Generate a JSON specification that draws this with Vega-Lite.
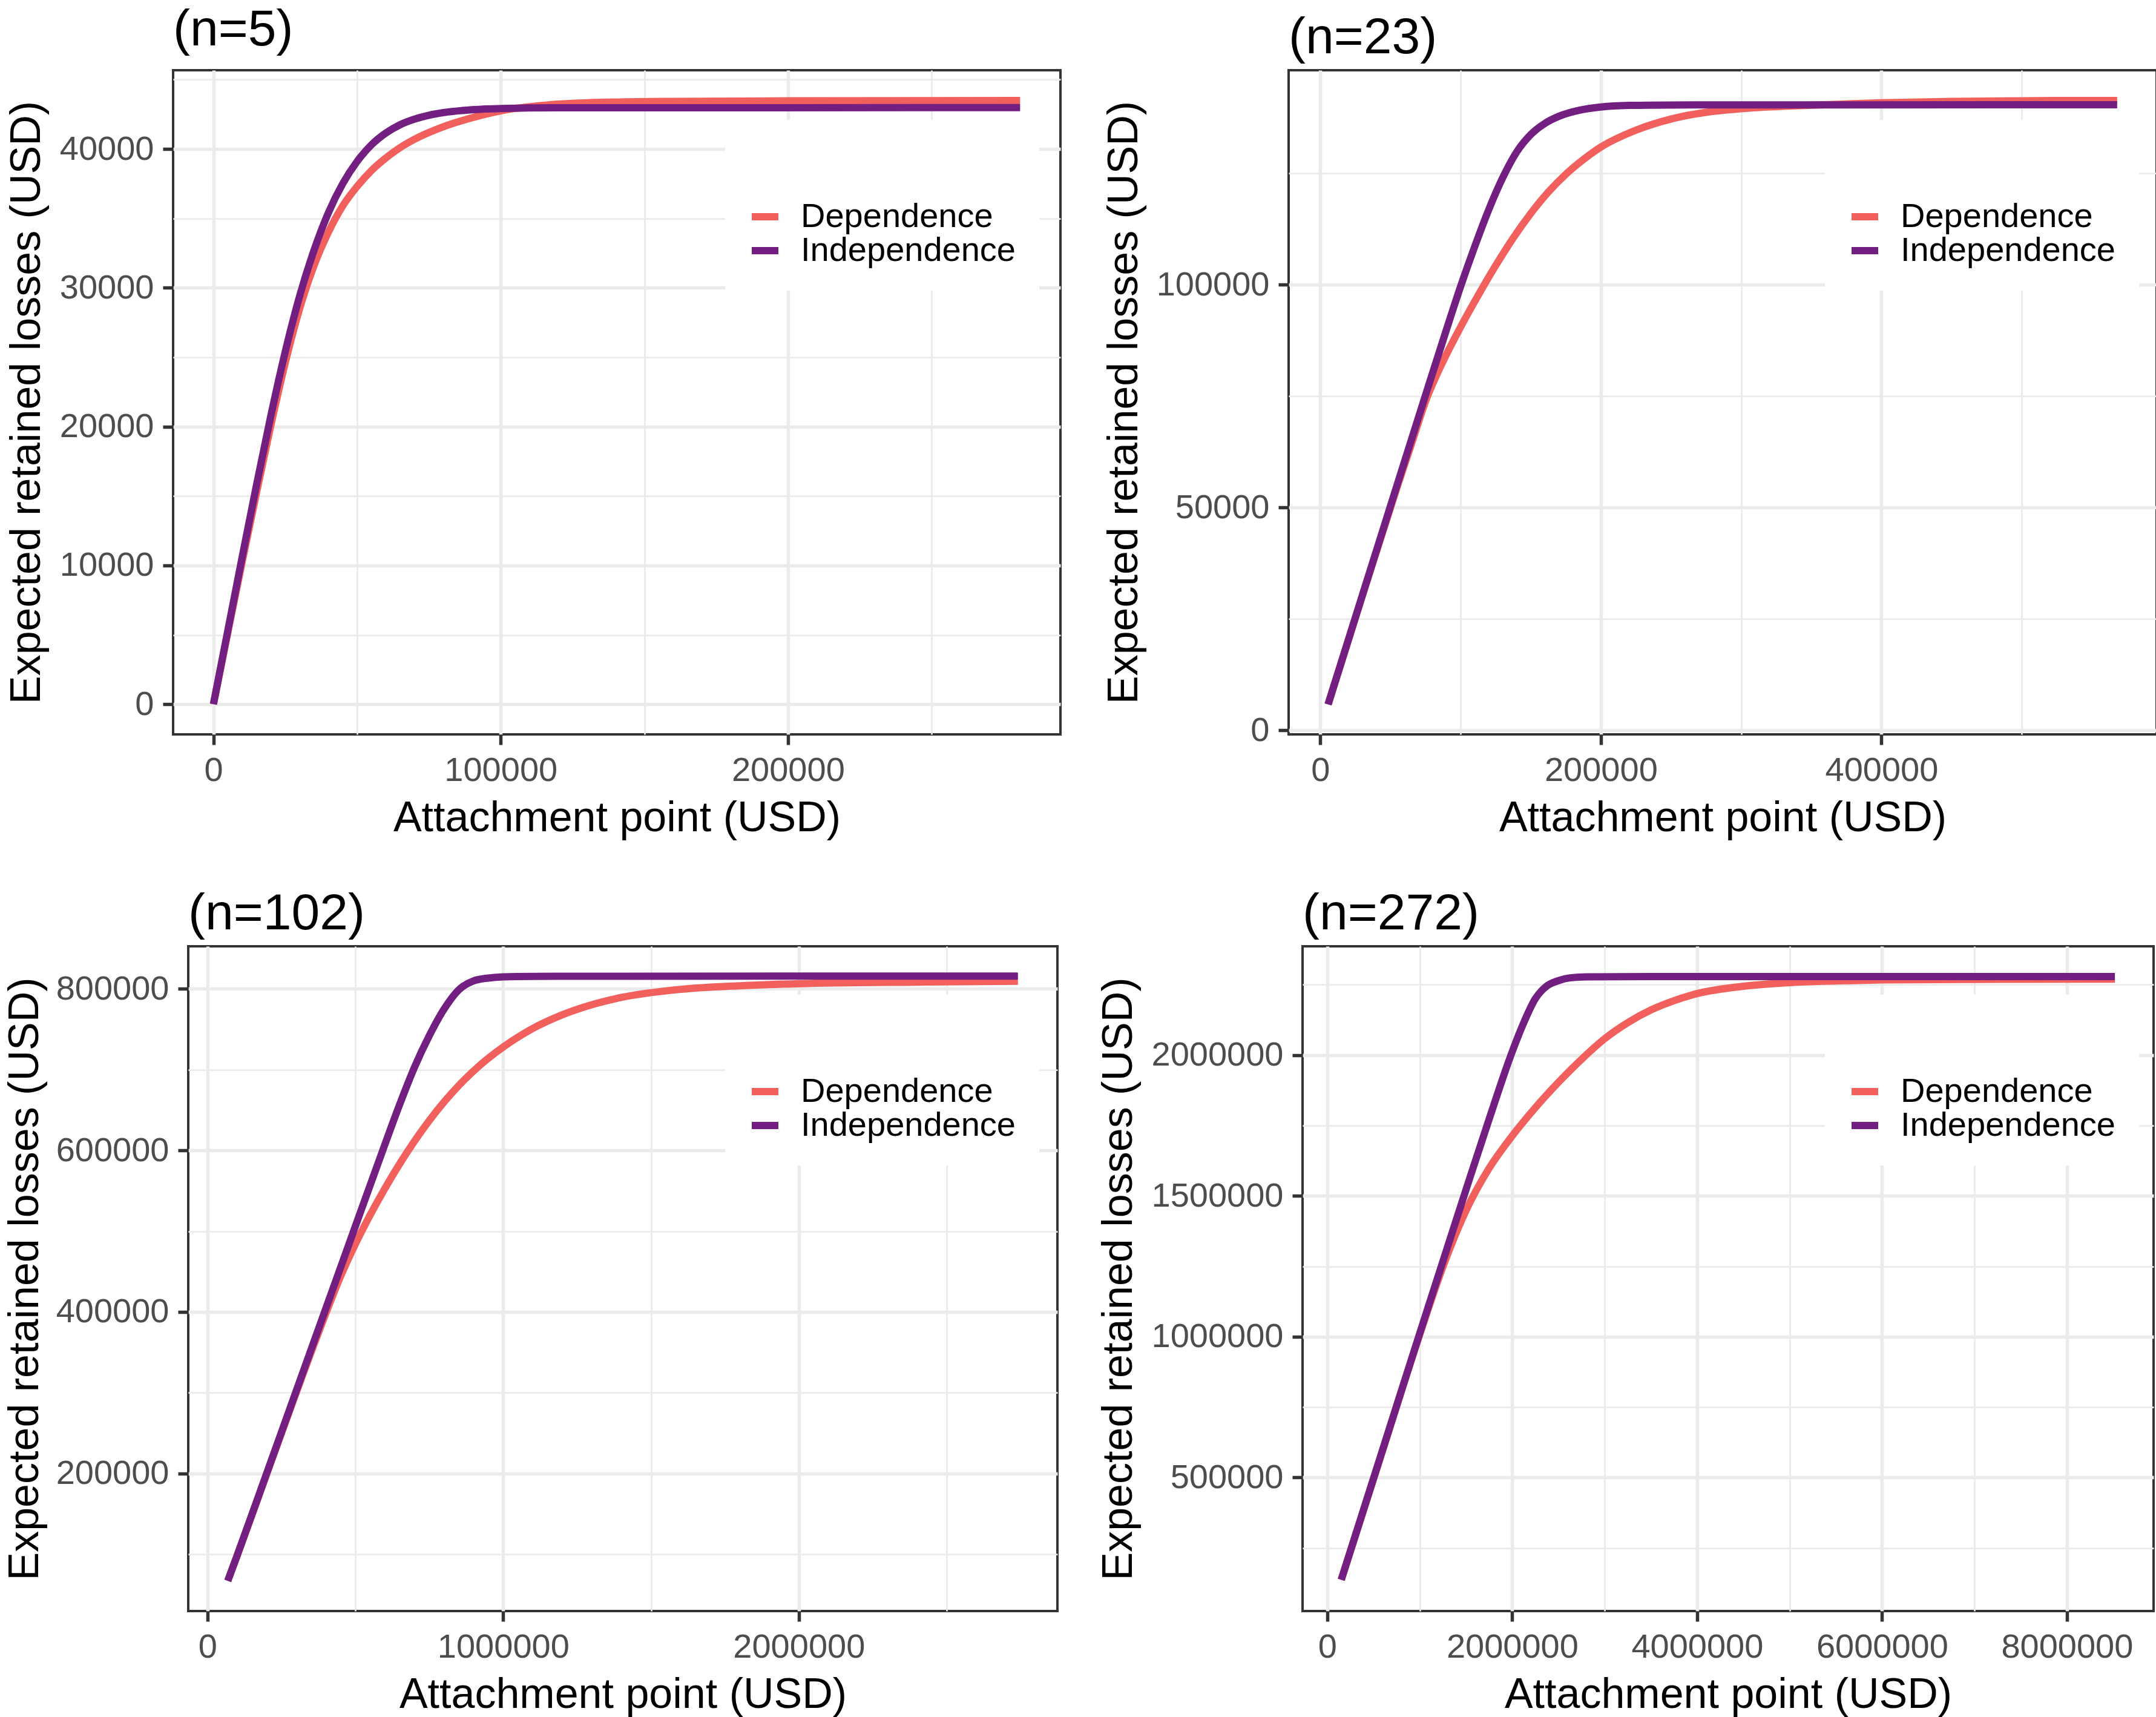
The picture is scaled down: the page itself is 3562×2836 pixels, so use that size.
{
  "$schema": "https://vega.github.io/schema/vega-lite/v6.json",
  "padding": {"left": 3, "top": 6, "right": 0, "bottom": 0},
  "background": "#FFFFFF",
  "config": {
    "font": "Liberation Sans",
    "view": {"stroke": "#333333", "strokeWidth": 4},
    "axis": {
      "domain": false,
      "labelFontSize": 56,
      "labelColor": "#4D4D4D",
      "labelFont": "Liberation Sans",
      "labelLimit": 0,
      "titleFont": "Liberation Sans",
      "titleFontSize": 70,
      "titleColor": "#000000",
      "titleFontWeight": "normal",
      "titleLimit": 0,
      "tickColor": "#333333",
      "tickWidth": 5.5,
      "tickSize": 17,
      "labelPadding": 15,
      "gridColor": "#EBEBEB",
      "labelOverlap": false,
      "labelFlush": false,
      "labelBound": false,
      "format": "d"
    },
    "axisX": {"titlePadding": 17},
    "axisY": {"titlePadding": 18},
    "title": {"fontSize": 84, "anchor": "start", "frame": "group", "fontWeight": "normal", "color": "#000000", "offset": 10, "font": "Liberation Sans"},
    "legend": {
      "orient": "none",
      "symbolType": "stroke",
      "symbolSize": 1936,
      "symbolStrokeWidth": 12,
      "labelFontSize": 56,
      "labelColor": "#000000",
      "labelFont": "Liberation Sans",
      "labelOffset": 31,
      "labelLimit": 0,
      "rowPadding": -7,
      "padding": 38,
      "fillColor": "#FFFFFF",
      "titleFontSize": 56,
      "titlePadding": 38
    },
    "line": {"strokeWidth": 12, "interpolate": "monotone"}
  },
  "datasets": {
    "p1": [
      {"s": "Dependence", "x": 0, "y": 0},
      {"s": "Dependence", "x": 5000, "y": 5150},
      {"s": "Dependence", "x": 10000, "y": 10250},
      {"s": "Dependence", "x": 15000, "y": 15250},
      {"s": "Dependence", "x": 20000, "y": 20100},
      {"s": "Dependence", "x": 25000, "y": 24600},
      {"s": "Dependence", "x": 30000, "y": 28500},
      {"s": "Dependence", "x": 35000, "y": 31600},
      {"s": "Dependence", "x": 40000, "y": 34000},
      {"s": "Dependence", "x": 45000, "y": 35900},
      {"s": "Dependence", "x": 50000, "y": 37300},
      {"s": "Dependence", "x": 55000, "y": 38450},
      {"s": "Dependence", "x": 60000, "y": 39350},
      {"s": "Dependence", "x": 65000, "y": 40100},
      {"s": "Dependence", "x": 70000, "y": 40700},
      {"s": "Dependence", "x": 80000, "y": 41600},
      {"s": "Dependence", "x": 90000, "y": 42250},
      {"s": "Dependence", "x": 100000, "y": 42750},
      {"s": "Dependence", "x": 115000, "y": 43150},
      {"s": "Dependence", "x": 130000, "y": 43330},
      {"s": "Dependence", "x": 160000, "y": 43430},
      {"s": "Dependence", "x": 200000, "y": 43470},
      {"s": "Dependence", "x": 280800, "y": 43490},
      {"s": "Independence", "x": 0, "y": 0},
      {"s": "Independence", "x": 5000, "y": 5300},
      {"s": "Independence", "x": 10000, "y": 10600},
      {"s": "Independence", "x": 15000, "y": 15800},
      {"s": "Independence", "x": 20000, "y": 20800},
      {"s": "Independence", "x": 25000, "y": 25400},
      {"s": "Independence", "x": 30000, "y": 29400},
      {"s": "Independence", "x": 35000, "y": 32700},
      {"s": "Independence", "x": 40000, "y": 35400},
      {"s": "Independence", "x": 45000, "y": 37500},
      {"s": "Independence", "x": 50000, "y": 39100},
      {"s": "Independence", "x": 55000, "y": 40300},
      {"s": "Independence", "x": 60000, "y": 41150},
      {"s": "Independence", "x": 65000, "y": 41750},
      {"s": "Independence", "x": 70000, "y": 42150},
      {"s": "Independence", "x": 75000, "y": 42430},
      {"s": "Independence", "x": 80000, "y": 42620},
      {"s": "Independence", "x": 90000, "y": 42830},
      {"s": "Independence", "x": 100000, "y": 42920},
      {"s": "Independence", "x": 120000, "y": 42970},
      {"s": "Independence", "x": 280800, "y": 42980}
    ],
    "p2": [
      {"s": "Dependence", "x": 5570, "y": 5800},
      {"s": "Dependence", "x": 30000, "y": 30200},
      {"s": "Dependence", "x": 55000, "y": 54800},
      {"s": "Dependence", "x": 65000, "y": 64300},
      {"s": "Dependence", "x": 75000, "y": 73800},
      {"s": "Dependence", "x": 87500, "y": 82800},
      {"s": "Dependence", "x": 100000, "y": 90500},
      {"s": "Dependence", "x": 112500, "y": 97600},
      {"s": "Dependence", "x": 125000, "y": 104300},
      {"s": "Dependence", "x": 137500, "y": 110500},
      {"s": "Dependence", "x": 150000, "y": 116000},
      {"s": "Dependence", "x": 162500, "y": 120800},
      {"s": "Dependence", "x": 175000, "y": 124800},
      {"s": "Dependence", "x": 187500, "y": 128100},
      {"s": "Dependence", "x": 200000, "y": 130900},
      {"s": "Dependence", "x": 225000, "y": 134700},
      {"s": "Dependence", "x": 250000, "y": 137200},
      {"s": "Dependence", "x": 275000, "y": 138700},
      {"s": "Dependence", "x": 300000, "y": 139500},
      {"s": "Dependence", "x": 350000, "y": 140300},
      {"s": "Dependence", "x": 400000, "y": 140850},
      {"s": "Dependence", "x": 450000, "y": 141150},
      {"s": "Dependence", "x": 500000, "y": 141300},
      {"s": "Dependence", "x": 567958, "y": 141370},
      {"s": "Independence", "x": 5570, "y": 5800},
      {"s": "Independence", "x": 30000, "y": 30300},
      {"s": "Independence", "x": 55000, "y": 55300},
      {"s": "Independence", "x": 75000, "y": 75200},
      {"s": "Independence", "x": 90000, "y": 90000},
      {"s": "Independence", "x": 100000, "y": 99600},
      {"s": "Independence", "x": 110000, "y": 108500},
      {"s": "Independence", "x": 120000, "y": 116800},
      {"s": "Independence", "x": 130000, "y": 124000},
      {"s": "Independence", "x": 140000, "y": 129800},
      {"s": "Independence", "x": 150000, "y": 133700},
      {"s": "Independence", "x": 160000, "y": 136200},
      {"s": "Independence", "x": 170000, "y": 137800},
      {"s": "Independence", "x": 185000, "y": 139200},
      {"s": "Independence", "x": 200000, "y": 139900},
      {"s": "Independence", "x": 220000, "y": 140250},
      {"s": "Independence", "x": 250000, "y": 140350},
      {"s": "Independence", "x": 567958, "y": 140400}
    ],
    "p3": [
      {"s": "Dependence", "x": 68500, "y": 67000},
      {"s": "Dependence", "x": 100000, "y": 97800},
      {"s": "Dependence", "x": 200000, "y": 199000},
      {"s": "Dependence", "x": 300000, "y": 300000},
      {"s": "Dependence", "x": 400000, "y": 398000},
      {"s": "Dependence", "x": 450000, "y": 444000},
      {"s": "Dependence", "x": 500000, "y": 484000},
      {"s": "Dependence", "x": 550000, "y": 520000},
      {"s": "Dependence", "x": 600000, "y": 553000},
      {"s": "Dependence", "x": 650000, "y": 583500},
      {"s": "Dependence", "x": 700000, "y": 611500},
      {"s": "Dependence", "x": 750000, "y": 637000},
      {"s": "Dependence", "x": 800000, "y": 660000},
      {"s": "Dependence", "x": 850000, "y": 680500},
      {"s": "Dependence", "x": 900000, "y": 698500},
      {"s": "Dependence", "x": 1000000, "y": 728000},
      {"s": "Dependence", "x": 1100000, "y": 751000},
      {"s": "Dependence", "x": 1200000, "y": 768000},
      {"s": "Dependence", "x": 1300000, "y": 780500},
      {"s": "Dependence", "x": 1400000, "y": 789500},
      {"s": "Dependence", "x": 1600000, "y": 799500},
      {"s": "Dependence", "x": 1800000, "y": 804000},
      {"s": "Dependence", "x": 2000000, "y": 806500},
      {"s": "Dependence", "x": 2400000, "y": 808500},
      {"s": "Dependence", "x": 2740800, "y": 809500},
      {"s": "Independence", "x": 68500, "y": 67000},
      {"s": "Independence", "x": 100000, "y": 98000},
      {"s": "Independence", "x": 200000, "y": 200000},
      {"s": "Independence", "x": 300000, "y": 302000},
      {"s": "Independence", "x": 400000, "y": 404000},
      {"s": "Independence", "x": 500000, "y": 506000},
      {"s": "Independence", "x": 600000, "y": 607500},
      {"s": "Independence", "x": 650000, "y": 657000},
      {"s": "Independence", "x": 700000, "y": 703000},
      {"s": "Independence", "x": 750000, "y": 742000},
      {"s": "Independence", "x": 800000, "y": 775000},
      {"s": "Independence", "x": 850000, "y": 799000},
      {"s": "Independence", "x": 900000, "y": 810000},
      {"s": "Independence", "x": 950000, "y": 813500},
      {"s": "Independence", "x": 1000000, "y": 815000},
      {"s": "Independence", "x": 1100000, "y": 815600},
      {"s": "Independence", "x": 1400000, "y": 815800},
      {"s": "Independence", "x": 2740800, "y": 815900}
    ],
    "p4": [
      {"s": "Dependence", "x": 150700, "y": 137000},
      {"s": "Dependence", "x": 500000, "y": 495000},
      {"s": "Dependence", "x": 1000000, "y": 1008000},
      {"s": "Dependence", "x": 1250000, "y": 1248000},
      {"s": "Dependence", "x": 1500000, "y": 1448000},
      {"s": "Dependence", "x": 1750000, "y": 1598000},
      {"s": "Dependence", "x": 2000000, "y": 1713000},
      {"s": "Dependence", "x": 2250000, "y": 1813000},
      {"s": "Dependence", "x": 2500000, "y": 1903000},
      {"s": "Dependence", "x": 2750000, "y": 1985000},
      {"s": "Dependence", "x": 3000000, "y": 2058000},
      {"s": "Dependence", "x": 3250000, "y": 2115000},
      {"s": "Dependence", "x": 3500000, "y": 2160000},
      {"s": "Dependence", "x": 3750000, "y": 2193000},
      {"s": "Dependence", "x": 4000000, "y": 2218000},
      {"s": "Dependence", "x": 4500000, "y": 2244000},
      {"s": "Dependence", "x": 5000000, "y": 2257000},
      {"s": "Dependence", "x": 5500000, "y": 2263000},
      {"s": "Dependence", "x": 6000000, "y": 2266500},
      {"s": "Dependence", "x": 7000000, "y": 2268500},
      {"s": "Dependence", "x": 8518400, "y": 2269500},
      {"s": "Independence", "x": 150700, "y": 137000},
      {"s": "Independence", "x": 500000, "y": 497000},
      {"s": "Independence", "x": 1000000, "y": 1012000},
      {"s": "Independence", "x": 1500000, "y": 1522000},
      {"s": "Independence", "x": 1750000, "y": 1772000},
      {"s": "Independence", "x": 2000000, "y": 2012000},
      {"s": "Independence", "x": 2125000, "y": 2115000},
      {"s": "Independence", "x": 2250000, "y": 2200000},
      {"s": "Independence", "x": 2375000, "y": 2245000},
      {"s": "Independence", "x": 2500000, "y": 2264000},
      {"s": "Independence", "x": 2625000, "y": 2274000},
      {"s": "Independence", "x": 2800000, "y": 2277500},
      {"s": "Independence", "x": 3500000, "y": 2278500},
      {"s": "Independence", "x": 8518400, "y": 2278700}
    ]
  },
  "spacing": 78,
  "resolve": {"scale": {"color": "independent"}, "legend": {"color": "independent"}},
  "vconcat": [
    {
      "spacing": 65,
      "resolve": {"scale": {"color": "independent"}, "legend": {"color": "independent"}},
      "hconcat": [
        {
          "width": 1466, "height": 1097,
          "title": {"text": "(n=5)"},
          "data": {"name": "p1"},
          "mark": {"type": "line"},
          "encoding": {
            "x": {"field": "x", "type": "quantitative", "title": "Attachment point (USD)",
              "scale": {"domain": [-14040, 294840], "nice": false, "zero": false},
              "axis": {"values": [0, 50000, 100000, 150000, 200000, 250000],
                "labelExpr": "datum.value % 100000 === 0 ? datum.label : ''",
                "gridWidth": {"condition": {"test": "datum.value % 100000 === 0", "value": 5.5}, "value": 2.75},
                "tickOpacity": {"condition": {"test": "datum.value % 100000 === 0", "value": 1}, "value": 0}}},
            "y": {"field": "y", "type": "quantitative", "title": "Expected retained losses (USD)",
              "scale": {"domain": [-2175, 45675], "nice": false, "zero": false},
              "axis": {"values": [0, 5000, 10000, 15000, 20000, 25000, 30000, 35000, 40000, 45000],
                "titleX": -206,
                "labelExpr": "datum.value % 10000 === 0 ? datum.label : ''",
                "gridWidth": {"condition": {"test": "datum.value % 10000 === 0", "value": 5.5}, "value": 2.75},
                "tickOpacity": {"condition": {"test": "datum.value % 10000 === 0", "value": 1}, "value": 0}}},
            "color": {"field": "s", "type": "nominal",
              "scale": {"domain": ["Dependence", "Independence"], "range": ["#F1605D", "#721F81"]},
              "legend": {"title": " ", "legendX": 912, "legendY": 82}}
          }
        },
        {
          "width": 1434, "height": 1097,
          "title": {"text": "(n=23)"},
          "data": {"name": "p2"},
          "mark": {"type": "line"},
          "encoding": {
            "x": {"field": "x", "type": "quantitative", "title": "Attachment point (USD)",
              "scale": {"domain": [-22549, 596078], "nice": false, "zero": false},
              "axis": {"values": [0, 100000, 200000, 300000, 400000, 500000],
                "labelExpr": "datum.value % 200000 === 0 ? datum.label : ''",
                "gridWidth": {"condition": {"test": "datum.value % 200000 === 0", "value": 5.5}, "value": 2.75},
                "tickOpacity": {"condition": {"test": "datum.value % 200000 === 0", "value": 1}, "value": 0}}},
            "y": {"field": "y", "type": "quantitative", "title": "Expected retained losses (USD)",
              "scale": {"domain": [-926, 148148], "nice": false, "zero": false},
              "axis": {"values": [0, 25000, 50000, 75000, 100000, 125000],
                "titleX": -236,
                "labelExpr": "datum.value % 50000 === 0 ? datum.label : ''",
                "gridWidth": {"condition": {"test": "datum.value % 50000 === 0", "value": 5.5}, "value": 2.75},
                "tickOpacity": {"condition": {"test": "datum.value % 50000 === 0", "value": 1}, "value": 0}}},
            "color": {"field": "s", "type": "nominal",
              "scale": {"domain": ["Dependence", "Independence"], "range": ["#F1605D", "#721F81"]},
              "legend": {"title": " ", "legendX": 886, "legendY": 82}}
          }
        }
      ]
    },
    {
      "spacing": -284,
      "resolve": {"scale": {"color": "independent"}, "legend": {"color": "independent"}},
      "hconcat": [
        {
          "width": 1, "height": 1,
          "data": {"values": []},
          "mark": {"type": "point", "opacity": 0},
          "encoding": {},
          "view": {"stroke": null}
        },
        {
          "spacing": 61,
          "resolve": {"scale": {"color": "independent"}, "legend": {"color": "independent"}},
          "hconcat": [
            {
              "width": 1436, "height": 1098,
              "title": {"text": "(n=102)"},
              "data": {"name": "p3"},
              "mark": {"type": "line"},
              "encoding": {
                "x": {"field": "x", "type": "quantitative", "title": "Attachment point (USD)",
                  "scale": {"domain": [-65116, 2874419], "nice": false, "zero": false},
                  "axis": {"values": [0, 500000, 1000000, 1500000, 2000000, 2500000],
                    "labelExpr": "datum.value % 1000000 === 0 ? datum.label : ''",
                    "gridWidth": {"condition": {"test": "datum.value % 1000000 === 0", "value": 5.5}, "value": 2.75},
                    "tickOpacity": {"condition": {"test": "datum.value % 1000000 === 0", "value": 1}, "value": 0}}},
                "y": {"field": "y", "type": "quantitative", "title": "Expected retained losses (USD)",
                  "scale": {"domain": [29545, 852841], "nice": false, "zero": false},
                  "axis": {"values": [100000, 200000, 300000, 400000, 500000, 600000, 700000, 800000],
                    "titleX": -234,
                    "labelExpr": "datum.value % 200000 === 0 ? datum.label : ''",
                    "gridWidth": {"condition": {"test": "datum.value % 200000 === 0", "value": 5.5}, "value": 2.75},
                    "tickOpacity": {"condition": {"test": "datum.value % 200000 === 0", "value": 1}, "value": 0}}},
                "color": {"field": "s", "type": "nominal",
                  "scale": {"domain": ["Dependence", "Independence"], "range": ["#F1605D", "#721F81"]},
                  "legend": {"title": " ", "legendX": 887, "legendY": 80}}
              }
            },
            {
              "width": 1406, "height": 1098,
              "title": {"text": "(n=272)"},
              "data": {"name": "p4"},
              "mark": {"type": "line"},
              "encoding": {
                "x": {"field": "x", "type": "quantitative", "title": "Attachment point (USD)",
                  "scale": {"domain": [-267658, 8936803], "nice": false, "zero": false},
                  "axis": {"values": [0, 1000000, 2000000, 3000000, 4000000, 5000000, 6000000, 7000000, 8000000],
                    "labelExpr": "datum.value % 2000000 === 0 ? datum.label : ''",
                    "gridWidth": {"condition": {"test": "datum.value % 2000000 === 0", "value": 5.5}, "value": 2.75},
                    "tickOpacity": {"condition": {"test": "datum.value % 2000000 === 0", "value": 1}, "value": 0}}},
                "y": {"field": "y", "type": "quantitative", "title": "Expected retained losses (USD)",
                  "scale": {"domain": [26066, 2385988], "nice": false, "zero": false},
                  "axis": {"values": [250000, 500000, 750000, 1000000, 1250000, 1500000, 1750000, 2000000, 2250000],
                    "titleX": -268,
                    "labelExpr": "datum.value % 500000 === 0 ? datum.label : ''",
                    "gridWidth": {"condition": {"test": "datum.value % 500000 === 0", "value": 5.5}, "value": 2.75},
                    "tickOpacity": {"condition": {"test": "datum.value % 500000 === 0", "value": 1}, "value": 0}}},
                "color": {"field": "s", "type": "nominal",
                  "scale": {"domain": ["Dependence", "Independence"], "range": ["#F1605D", "#721F81"]},
                  "legend": {"title": " ", "legendX": 863, "legendY": 80}}
              }
            }
          ]
        }
      ]
    }
  ]
}
